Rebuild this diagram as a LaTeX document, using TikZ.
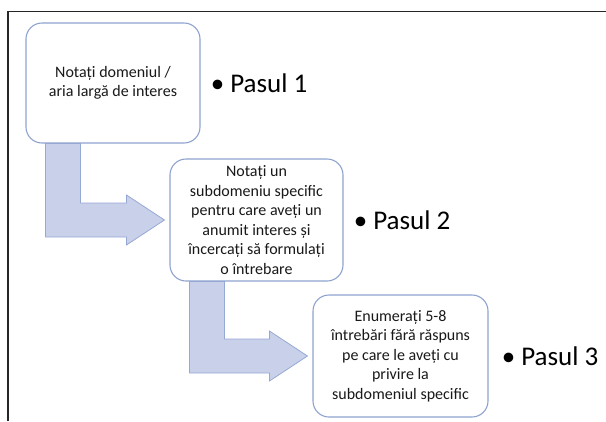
\documentclass[tikz,border=0pt]{standalone}
\usepackage{fontspec}
\setmainfont{Carlito}
\usetikzlibrary{positioning,calc,backgrounds}
\definecolor{boxline}{RGB}{143,163,208}
\definecolor{arrowfill}{RGB}{201,209,234}
\definecolor{arrowline}{RGB}{150,168,212}
\tikzset{
  stepbox/.style={draw=boxline, line width=1.1pt, fill=white, rounded corners=16pt,
    align=center, inner sep=2pt, font=\fontsize{16}{19.6}\selectfont, text=black!90},
  pasul/.style={font=\fontsize{27}{30}\selectfont, inner sep=0pt, anchor=west},
  flowarrow/.style={fill=arrowfill, draw=arrowline, line width=0.8pt, line join=miter}
}
\begin{document}
\begin{tikzpicture}[x=1pt,y=-1pt]
  \useasboundingbox (0,0) rectangle (606,421);
  \draw[line width=1.2pt, black!85] (8,421) -- (8,11.5) -- (606,11.5);

  \node[stepbox, minimum width=174pt, minimum height=120pt] (box1) at (113,83)
    {Notați domeniul /\\aria largă de interes};
  \node[stepbox, minimum width=173pt, minimum height=122pt] (box2) at (256.5,220)
    {Notați un\\subdomeniu specific\\pentru care aveți un\\anumit interes și\\încercați să formulați\\o întrebare};
  \node[stepbox, minimum width=175pt, minimum height=122pt] (box3) at (400.5,356)
    {Enumerați 5-8\\întrebări fără răspuns\\pe care le aveți cu\\privire la\\subdomeniul specific};

  % bent arrows between the boxes
  \begin{pgfonlayer}{background}
  \foreach \a/\b in {box1/box2,box2/box3}
    \draw[flowarrow] ($(\a.south west)+(20,0)$) -- ($(\a.south west)+(55,0)$)
      |- ($(\b.west)+(-43,-17)$) -- ++(0,-8) -- ($(\b.west)+(-5,0)$)
      -- ($(\b.west)+(-43,25)$) -- ++(0,-8) -| ($(\a.south west)+(20,0)$) -- cycle;
  \end{pgfonlayer}

  \node[pasul, right=10pt of box1] (pas1) {• Pasul 1};
  \node[pasul, right=10pt of box2] (pas2) {• Pasul 2};
  \node[pasul, right=13pt of box3] (pas3) {• Pasul 3};
\end{tikzpicture}
\end{document}
